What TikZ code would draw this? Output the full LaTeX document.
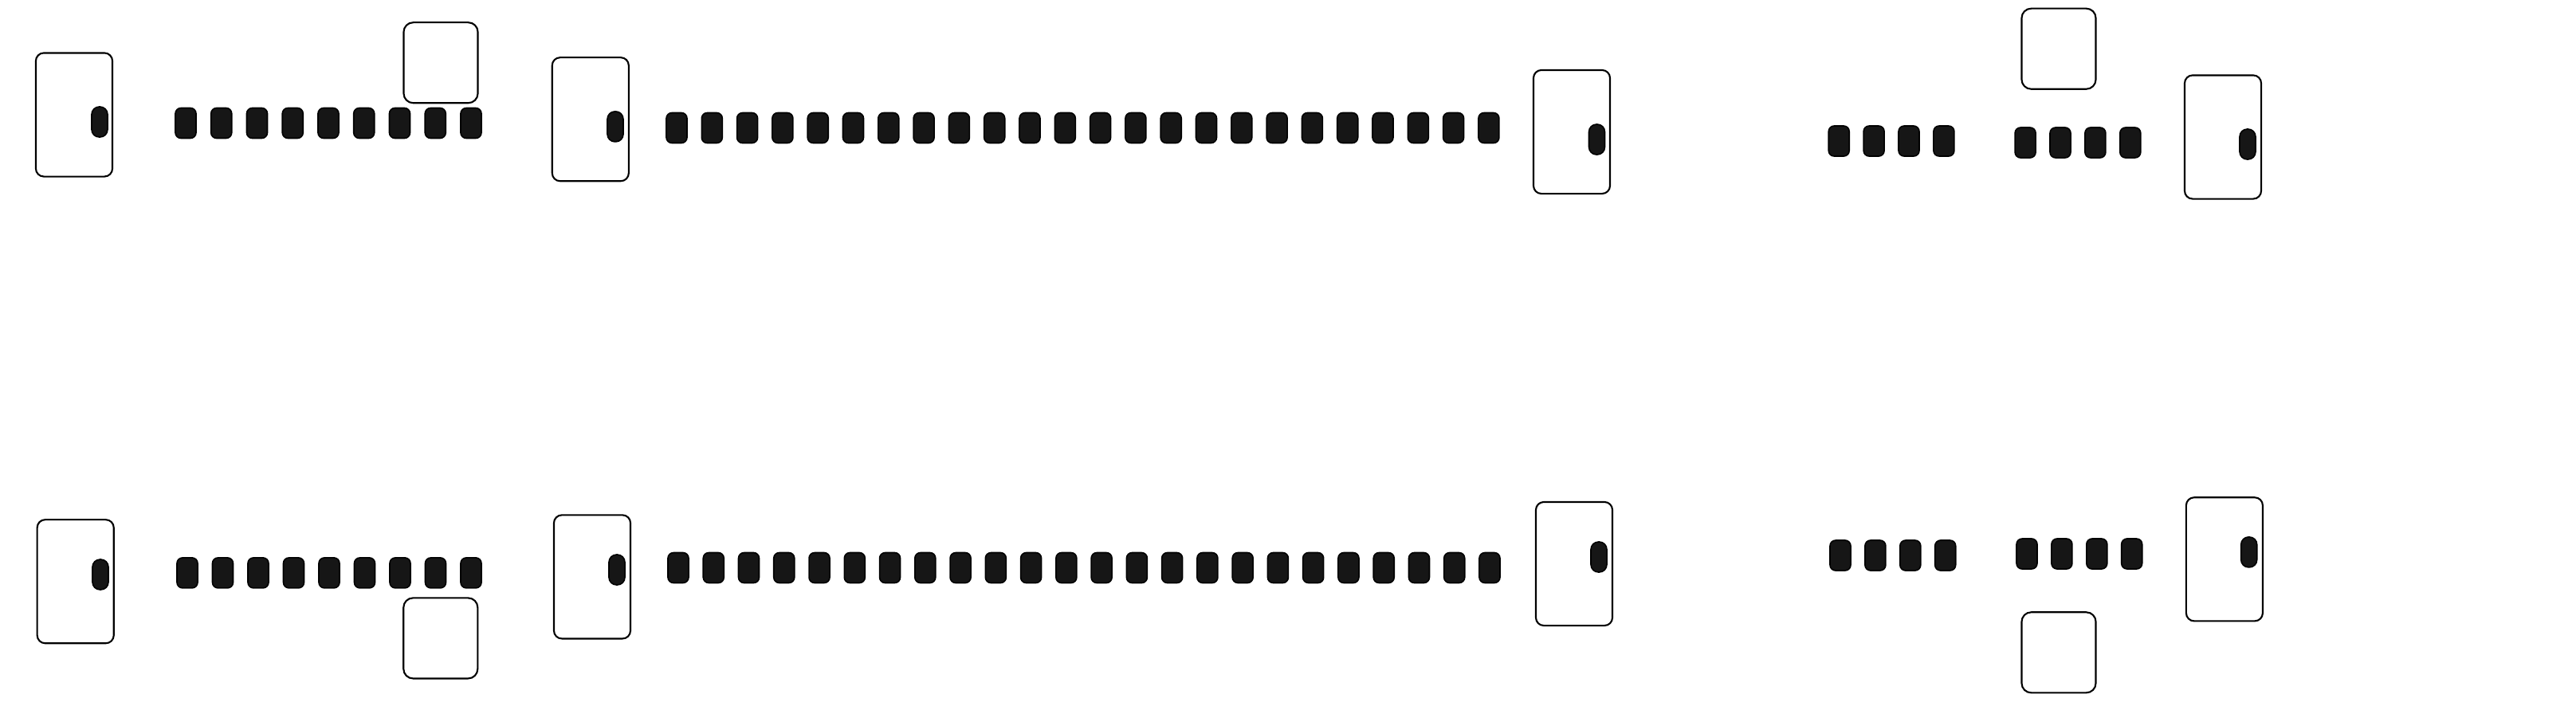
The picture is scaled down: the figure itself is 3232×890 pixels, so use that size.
\documentclass[tikz,border=0pt]{standalone}
\definecolor{pillfill}{RGB}{22,22,22}
\tikzset{
  bigbox/.style={draw=black, line width=0.6pt, rounded corners=0.1cm, fill=white, minimum width=0.96cm, minimum height=1.55cm, inner sep=0pt, outer sep=0pt},
  smallbox/.style={draw=black, line width=0.6pt, rounded corners=0.12cm, fill=white, minimum width=0.93cm, minimum height=1.01cm, inner sep=0pt, outer sep=0pt},
  rowpill/.style={draw=black, line width=0.45pt, rounded corners=0.07cm, fill=pillfill, minimum width=0.26cm, minimum height=0.38cm, inner sep=0pt, outer sep=0pt},
  inpill/.style={draw=black, line width=0.45pt, rounded corners=0.095cm, fill=pillfill, minimum width=0.20cm, minimum height=0.38cm, inner sep=0pt, outer sep=0pt}
}
\begin{document}
\begin{tikzpicture}[x=0.01cm, y=-0.01cm]
\useasboundingbox (0,0) rectangle (3232,890);
% ---------- top row ----------
\node[bigbox] (A) at (93,144) {};
\node[inpill] (pA) at (125,153) {};
\foreach \i in {0,...,8} \node[rowpill] (tnine\i) at ({233+44.75*\i},154.5) {};
\node[smallbox] (smT) at (553,78.7) {};
\node[bigbox] (B) at (740.8,149.7) {};
\node[inpill] (pB) at (772,158.9) {};
\foreach \i in {0,...,23} \node[rowpill] (ttf\i) at ({849+44.3*\i},160.5) {};
\node[bigbox] (C) at (1972,165.5) {};
\node[inpill] (pC) at (2003.5,175) {};
\foreach \i in {0,...,3} \node[rowpill] (tgA\i) at ({2307.2+43.9*\i},177) {};
\foreach \i in {0,...,3} \node[rowpill] (tgB\i) at ({2541.1+43.9*\i},179) {};
\node[smallbox] (smTR) at (2583,61.2) {};
\node[bigbox] (D) at (2789,172) {};
\node[inpill] (pD) at (2820,181) {};
% ---------- bottom row ----------
\node[bigbox] (A2) at (94.7,729.7) {};
\node[inpill] (pA2) at (126,721) {};
\foreach \i in {0,...,8} \node[rowpill] (bnine\i) at ({235+44.5*\i},718.9) {};
\node[smallbox] (smB) at (552.8,800.9) {};
\node[bigbox] (B2) at (743,723.9) {};
\node[inpill] (pB2) at (774,715) {};
\foreach \i in {0,...,23} \node[rowpill] (btf\i) at ({851+44.26*\i},712.5) {};
\node[bigbox] (C2) at (1975,707.5) {};
\node[inpill] (pC2) at (2006,699) {};
\foreach \i in {0,...,3} \node[rowpill] (bgA\i) at ({2309+43.9*\i},697) {};
\foreach \i in {0,...,3} \node[rowpill] (bgB\i) at ({2543+43.9*\i},695) {};
\node[smallbox] (smBR) at (2583,818.8) {};
\node[bigbox] (D2) at (2790.9,701.8) {};
\node[inpill] (pD2) at (2821.7,692.9) {};
\end{tikzpicture}
\end{document}
